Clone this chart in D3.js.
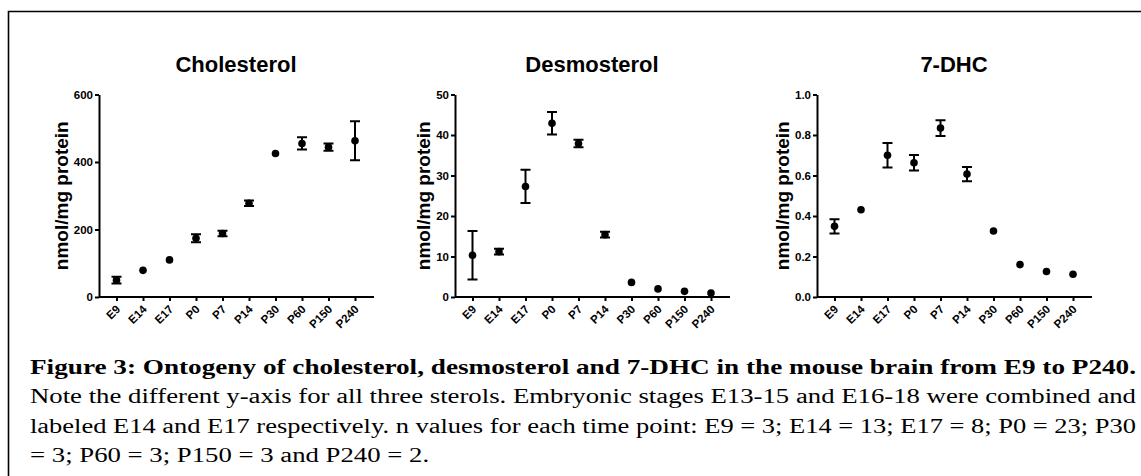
<!DOCTYPE html>
<html>
<head>
<meta charset="utf-8">
<script src="https://cdn.jsdelivr.net/npm/d3@7"></script>
<style>
  html, body { margin: 0; padding: 0; background: #fff; }
  svg { display: block; }
</style>
</head>
<body>
<div class="content"></div>
<script>

// time points on the x axis
var stages = ["E9", "E14", "E17", "P0", "P7", "P14", "P30", "P60", "P150", "P240"];

// cholesterol, nmol/mg protein (mean, sem)
var cholMean = [50, 79, 110, 174, 188, 278, 425, 455, 444, 463];
var cholSem  = [10, 5, 6, 12, 8, 8, 4, 18, 11, 58];

// desmosterol
var desmoMean = [10.3, 11.2, 27.3, 42.9, 37.9, 15.4, 3.6, 2.0, 1.4, 1.0];
var desmoSem  = [6.0, 0.7, 4.1, 2.8, 0.9, 0.7, 0.2, 0.1, 0.1, 0.1];

// 7-DHC
var dhcMean = [0.349, 0.431, 0.70, 0.663, 0.834, 0.607, 0.326, 0.160, 0.126, 0.112];
var dhcSem  = [0.035, 0.012, 0.06, 0.038, 0.039, 0.035, 0.005, 0.005, 0.005, 0.005];

var titles = ["Cholesterol", "Desmosterol", "7-DHC"];
var yMax = [600, 50, 1.0];
var yTicks = [[0, 200, 400, 600], [0, 10, 20, 30, 40, 50], [0, 0.2, 0.4, 0.6, 0.8, 1.0]];
var yFormat = [d3.format("d"), d3.format("d"), d3.format(".1f")];
var yLabel = "nmol/mg protein";

var captionBold = "Figure 3: Ontogeny of cholesterol, desmosterol and 7-DHC in the mouse brain from E9 to P240.";
var captionLines = [
  "Note the different y-axis for all three sterols. Embryonic stages E13-15 and E16-18 were combined and",
  "labeled E14 and E17 respectively. n values for each time point: E9 = 3; E14 = 13; E17 = 8; P0 = 23; P30",
  "= 3; P60 = 3; P150 = 3 and P240 = 2."
];

var W = 1141, H = 476;
var svg = d3.select(".content").append("svg")
  .attr("width", W)
  .attr("height", H);

// frame (top + left edge only)
svg.append("path")
  .attr("d", "M8.5,476 L8.5,11.5 L1141,11.5")
  .attr("fill", "none")
  .attr("stroke", "#000")
  .attr("stroke-width", 1.6);

var panels = [
  { mean: cholMean, sem: cholSem, ox: 99 },
  { mean: desmoMean, sem: desmoSem, ox: 455 },
  { mean: dhcMean, sem: dhcSem, ox: 817 }
];

var plotTop = 94.5, plotBottom = 297, axisLen = 275;
var font = "'Liberation Sans', Arial, sans-serif";

panels.forEach(function(p, i) {
  var g = svg.append("g");

  var x = d3.scalePoint()
    .domain(stages)
    .range([p.ox + 17.5, p.ox + 256]);

  var y = d3.scaleLinear()
    .domain([0, yMax[i]])
    .range([plotBottom, plotTop]);

  // y axis
  var yAxis = g.append("g")
    .attr("transform", "translate(" + p.ox + ",0)")
    .call(d3.axisLeft(y).tickValues(yTicks[i]).tickFormat(yFormat[i]).tickSize(4).tickPadding(2).tickSizeOuter(0));

  // x axis
  var xAxis = g.append("g")
    .attr("transform", "translate(0," + plotBottom + ")")
    .call(d3.axisBottom(x).tickSize(4).tickSizeOuter(0));
  xAxis.select(".domain").attr("d", "M" + p.ox + ",0H" + (p.ox + axisLen));

  [yAxis, xAxis].forEach(function(ax) {
    ax.select(".domain").attr("stroke", "#000").attr("stroke-width", 2);
    ax.selectAll(".tick line").attr("stroke", "#000").attr("stroke-width", 2);
    ax.selectAll("text")
      .attr("fill", "#000")
      .style("font-family", font)
      .style("font-weight", "bold")
      .style("font-size", "11.5px");
  });

  xAxis.selectAll(".tick text")
    .attr("text-anchor", "end")
    .attr("dy", null)
    .attr("y", 0)
    .attr("transform", "translate(4,13) rotate(-45)");

  // title
  g.append("text")
    .attr("x", p.ox + 137)
    .attr("y", 72)
    .attr("text-anchor", "middle")
    .style("font-family", font)
    .style("font-weight", "bold")
    .style("font-size", "22px")
    .text(titles[i]);

  // y label, just left of the widest tick label
  var tickLeft = yAxis.node().getBBox().x + p.ox;
  g.append("text")
    .attr("transform", "translate(" + (tickLeft - 2) + "," + ((plotTop + plotBottom) / 2) + ") rotate(-90)")
    .attr("text-anchor", "middle")
    .attr("dy", "-0.22em")
    .style("font-family", font)
    .style("font-weight", "bold")
    .style("font-size", "19px")
    .text(yLabel);

  // error bars (hidden by GraphPad when shorter than the symbol)
  var bars = stages.map(function(s, k) {
    return { s: s, m: p.mean[k], e: p.sem[k] };
  }).filter(function(d) {
    return Math.abs(y(d.m + d.e) - y(d.m)) > 2.5;
  });

  var eb = g.append("g")
    .attr("stroke", "#000")
    .attr("stroke-width", 2)
    .attr("fill", "none");

  bars.forEach(function(d) {
    var cx = x(d.s), y1 = y(d.m + d.e), y2 = y(d.m - d.e);
    eb.append("path")
      .attr("d", "M" + cx + "," + y1 + "V" + y2 +
        "M" + (cx - 5) + "," + y1 + "H" + (cx + 5) +
        "M" + (cx - 5) + "," + y2 + "H" + (cx + 5));
  });

  // means
  g.selectAll("circle.pt")
    .data(stages)
    .enter().append("circle")
    .attr("class", "pt")
    .attr("cx", function(d) { return x(d); })
    .attr("cy", function(d, k) { return y(p.mean[k]); })
    .attr("r", 3.8)
    .attr("fill", "#000");
});

// caption (the scan is stretched sideways, so glyphs are widened to fit)
var serif = "'Liberation Serif', 'Times New Roman', serif";
var capX = 30, capRight = 1136;
var capY = [374, 403.3, 432.6, 462];
var allLines = [captionBold].concat(captionLines);

var stretch = 1;
allLines.forEach(function(line, k) {
  var t = svg.append("text")
    .attr("x", capX)
    .attr("y", capY[k])
    .style("font-family", serif)
    .style("font-weight", k === 0 ? "bold" : "normal")
    .style("font-size", "20px")
    .text(line);
  var natural = t.node().getComputedTextLength();
  if (k < allLines.length - 1) {
    if (k === 1) stretch = (capRight - capX) / natural;
    t.attr("textLength", capRight - capX).attr("lengthAdjust", "spacingAndGlyphs");
  } else {
    t.attr("textLength", natural * stretch).attr("lengthAdjust", "spacingAndGlyphs");
  }
});

</script>
</body>
</html>
